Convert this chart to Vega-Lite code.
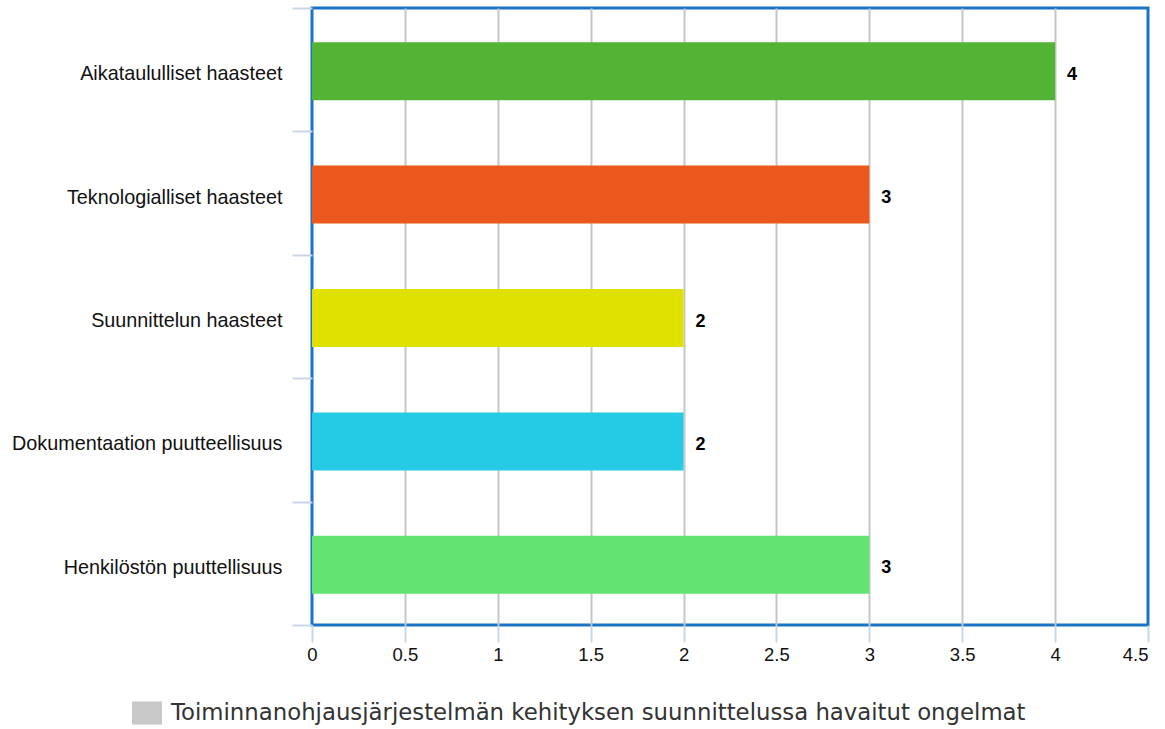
{
  "$schema": "https://vega.github.io/schema/vega-lite/v6.json",
  "autosize": "none",
  "padding": {"left": 312, "top": 8, "right": 17, "bottom": 104},
  "width": 836,
  "height": 617,
  "background": "white",
  "config": {
    "view": {"stroke": "#1a73c6", "strokeWidth": 3},
    "font": "Liberation Sans"
  },
  "data": {
    "values": [
      {"category": "Aikataululliset haasteet", "value": 4, "series": "Toiminnanohjausjärjestelmän kehityksen suunnittelussa havaitut ongelmat"},
      {"category": "Teknologialliset haasteet", "value": 3, "series": "Toiminnanohjausjärjestelmän kehityksen suunnittelussa havaitut ongelmat"},
      {"category": "Suunnittelun haasteet", "value": 2, "series": "Toiminnanohjausjärjestelmän kehityksen suunnittelussa havaitut ongelmat"},
      {"category": "Dokumentaation puutteellisuus", "value": 2, "series": "Toiminnanohjausjärjestelmän kehityksen suunnittelussa havaitut ongelmat"},
      {"category": "Henkilöstön puuttellisuus", "value": 3, "series": "Toiminnanohjausjärjestelmän kehityksen suunnittelussa havaitut ongelmat"}
    ]
  },
  "encoding": {
    "y": {
      "field": "category",
      "type": "nominal",
      "sort": null,
      "scale": {"paddingInner": 0, "paddingOuter": 0},
      "axis": {
        "title": null,
        "tickBand": "extent",
        "domain": false,
        "grid": false,
        "tickSize": 20,
        "tickColor": "#c8d6e8",
        "tickWidth": 2,
        "labelFont": "Liberation Sans",
        "labelFontSize": 19.8,
        "labelColor": "#111111",
        "labelPadding": 10,
        "labelOffset": 4,
        "labelLimit": 400
      }
    },
    "x": {
      "field": "value",
      "type": "quantitative",
      "scale": {"domain": [0, 4.5], "nice": false, "zero": true},
      "axis": {
        "title": null,
        "values": [0, 0.5, 1, 1.5, 2, 2.5, 3, 3.5, 4, 4.5],
        "format": "~g",
        "domain": false,
        "grid": true,
        "gridColor": "#c6c6c6",
        "gridWidth": 2,
        "gridOpacity": {"condition": {"test": "datum.value === 0 || datum.value === 4.5", "value": 0}, "value": 1},
        "tickSize": 17,
        "tickColor": "#c8d6e8",
        "tickWidth": 2,
        "labelFont": "Liberation Sans",
        "labelFontSize": 18.5,
        "labelColor": "#111111",
        "labelPadding": 3,
        "labelFlush": false,
        "labelAlign": {"condition": {"test": "datum.value === 4.5", "value": "right"}, "value": "center"}
      }
    }
  },
  "layer": [
    {
      "mark": {"type": "bar", "height": {"band": 0.47}, "yOffset": 1.5},
      "encoding": {
        "color": {
          "field": "category",
          "type": "nominal",
          "scale": {
            "domain": ["Aikataululliset haasteet", "Teknologialliset haasteet", "Suunnittelun haasteet", "Dokumentaation puutteellisuus", "Henkilöstön puuttellisuus"],
            "range": ["#52b335", "#ec571e", "#dfe100", "#25cbe4", "#63e371"]
          },
          "legend": null
        }
      }
    },
    {
      "mark": {"type": "text", "align": "left", "baseline": "middle", "dx": 12, "dy": 5, "fontWeight": "bold", "fontSize": 18, "font": "Liberation Sans", "color": "#000000"},
      "encoding": {"text": {"field": "value", "type": "quantitative"}}
    },
    {
      "mark": {"type": "point", "filled": true, "opacity": 0},
      "encoding": {
        "color": {
          "field": "series",
          "type": "nominal",
          "scale": {"range": ["#c8c8c8"]},
          "legend": {
            "title": null,
            "orient": "none",
            "legendX": -180,
            "legendY": 690,
            "symbolType": "M-1,-0.77L1,-0.77L1,0.77L-1,0.77Z",
            "symbolSize": 900,
            "symbolOpacity": 1,
            "symbolStrokeWidth": 0,
            "labelFont": "DejaVu Sans",
            "labelFontSize": 22.8,
            "labelColor": "#333333",
            "labelOffset": 9,
            "labelLimit": 1000
          }
        }
      }
    }
  ],
  "resolve": {"scale": {"color": "independent"}}
}
